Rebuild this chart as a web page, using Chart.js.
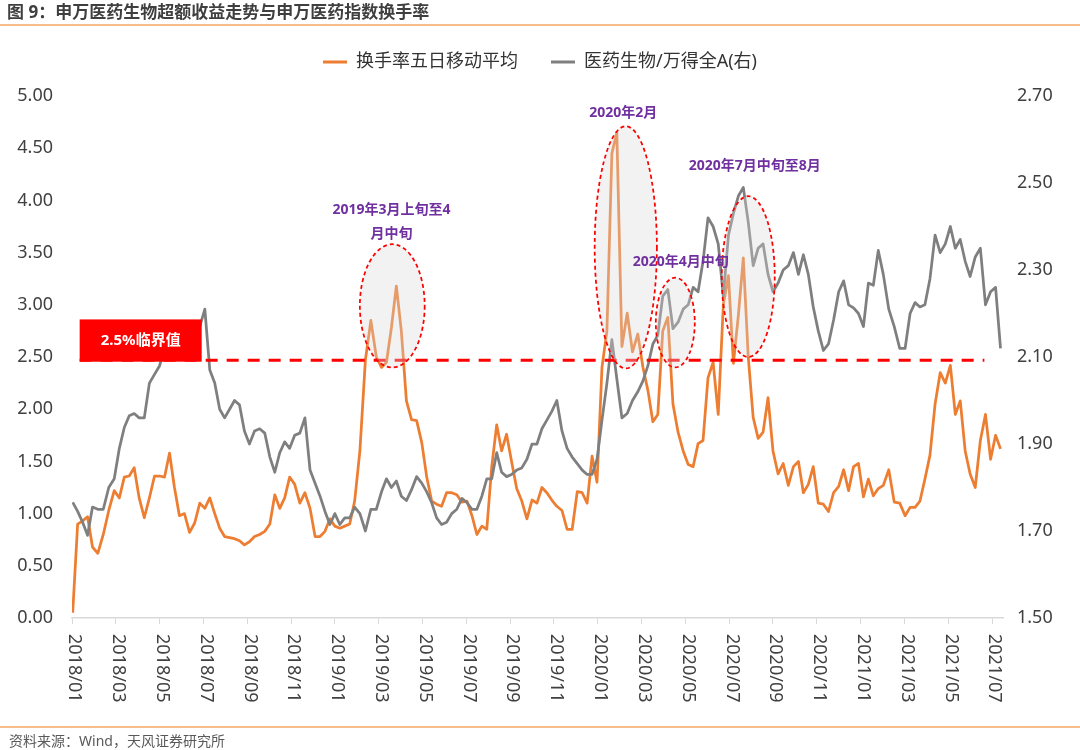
<!DOCTYPE html>
<html><head><meta charset="utf-8">
<script src="https://cdn.jsdelivr.net/npm/chart.js@4.4.1/dist/chart.umd.min.js"></script>
<style>
html,body{margin:0;padding:0;background:#fff;}
#wrap{position:relative;width:1080px;height:750px;overflow:hidden;font-family:"Noto Sans","Noto Sans CJK SC",sans-serif;}
#title{position:absolute;left:7px;top:1px;font-size:17px;font-weight:bold;color:#3f3f3f;white-space:nowrap;line-height:22px;}
.rule{position:absolute;left:0;width:1080px;height:2px;background:#F6BC8C;}
#foot{position:absolute;left:9px;top:731px;font-size:14px;color:#595959;line-height:20px;white-space:nowrap;}
#c{position:absolute;left:0;top:0;}
</style></head><body>
<div id="wrap">
<canvas id="c" width="1080" height="750"></canvas>
<div id="title">图 9：申万医药生物超额收益走势与申万医药指数换手率</div>
<div class="rule" style="top:24px"></div>
<div class="rule" style="top:726px"></div>
<div id="foot">资料来源：Wind，天风证券研究所</div>
</div>
<script>
// ---- data (weekly samples starting 2018-01-02) ----
const firstDate = '2018-01-02';
const turnover5d = [
0.05,0.90,0.93,0.97,0.68,0.62,0.80,1.03,1.22,1.15,
1.35,1.36,1.44,1.15,0.96,1.15,1.36,1.36,1.35,1.58,
1.25,0.98,1.00,0.82,0.91,1.10,1.05,1.15,1.00,0.86,
0.78,0.77,0.76,0.74,0.70,0.73,0.78,0.80,0.83,0.90,
1.18,1.05,1.15,1.35,1.28,1.10,1.20,1.05,0.78,0.78,
0.83,0.95,0.88,0.86,0.88,0.90,1.12,1.60,2.47,2.85,
2.50,2.40,2.45,2.78,3.18,2.75,2.08,1.90,1.89,1.68,
1.35,1.12,1.09,1.07,1.20,1.20,1.18,1.11,1.12,0.98,
0.80,0.88,0.85,1.45,1.85,1.60,1.76,1.50,1.24,1.12,
0.95,1.13,1.10,1.25,1.20,1.13,1.07,1.03,0.85,0.85,
1.21,1.20,1.10,1.55,1.30,2.40,2.75,4.45,4.65,2.60,
2.92,2.55,2.72,2.40,2.18,1.88,1.95,2.75,2.88,2.05,
1.78,1.60,1.47,1.45,1.67,1.70,2.30,2.45,1.95,3.00,
3.28,2.44,2.90,3.45,2.50,1.92,1.72,1.78,2.11,1.60,
1.38,1.48,1.27,1.45,1.50,1.20,1.28,1.45,1.10,1.09,
1.02,1.20,1.26,1.42,1.22,1.45,1.48,1.16,1.33,1.17,
1.24,1.27,1.42,1.11,1.10,0.98,1.06,1.06,1.12,1.33,
1.56,2.05,2.35,2.25,2.42,1.95,2.08,1.60,1.38,1.25,
1.70,1.95,1.52,1.75,1.62
];
const pharmaVsWindA = [
1.766,1.745,1.72,1.69,1.755,1.75,1.75,1.80,1.82,1.89,
1.938,1.965,1.97,1.96,1.96,2.04,2.06,2.08,2.12,2.16,
2.13,2.10,2.12,2.18,2.14,2.17,2.21,2.07,2.04,1.98,
1.96,1.98,2.00,1.99,1.93,1.90,1.93,1.935,1.925,1.87,
1.835,1.88,1.905,1.89,1.92,1.925,1.96,1.84,1.81,1.78,
1.745,1.715,1.74,1.715,1.73,1.73,1.755,1.74,1.70,1.75,
1.75,1.79,1.82,1.80,1.815,1.78,1.77,1.795,1.825,1.81,
1.79,1.765,1.73,1.715,1.72,1.74,1.75,1.775,1.765,1.75,
1.75,1.78,1.82,1.82,1.88,1.835,1.825,1.83,1.84,1.845,
1.865,1.90,1.90,1.935,1.955,1.975,2.00,1.93,1.89,1.87,
1.855,1.84,1.83,1.83,1.865,1.955,2.04,2.14,2.05,1.96,
1.97,2.00,2.02,2.045,2.08,2.13,2.15,2.24,2.255,2.165,
2.18,2.21,2.22,2.26,2.25,2.32,2.42,2.40,2.36,2.24,
2.38,2.43,2.47,2.49,2.41,2.31,2.35,2.36,2.29,2.25,
2.27,2.30,2.31,2.34,2.29,2.335,2.29,2.215,2.16,2.115,
2.13,2.185,2.25,2.275,2.22,2.213,2.20,2.17,2.27,2.265,
2.345,2.29,2.21,2.17,2.12,2.12,2.20,2.225,2.215,2.22,
2.28,2.38,2.34,2.36,2.40,2.35,2.37,2.32,2.285,2.33,
2.35,2.22,2.25,2.26,2.12
];
const tickLabels = ['2018/01','2018/03','2018/05','2018/07','2018/09','2018/11',
'2019/01','2019/03','2019/05','2019/07','2019/09','2019/11',
'2020/01','2020/03','2020/05','2020/07','2020/09','2020/11',
'2021/01','2021/03','2021/05','2021/07'];
const seriesNames = ['换手率五日移动平均','医药生物/万得全A(右)'];
const thresholdValue = 2.47;
const thresholdSpan = [0.35, 41.65];           // months from 2018/01
const thresholdLabel = '2.5%临界值';
const noteTexts = ['2020年2月','2019年3月上旬至4','月中旬','2020年7月中旬至8月','2020年4月中旬'];

// ---- helpers ----
function monthOffsetOfDate(d){
  const y=d.getUTCFullYear(), m=d.getUTCMonth(), day=d.getUTCDate();
  const dim=new Date(Date.UTC(y,m+1,0)).getUTCDate();
  return (y-2018)*12+m+(day-1)/dim;
}
function labelToMonth(l){ const [y,m]=l.split('/').map(Number); return (y-2018)*12+(m-1); }
const [fy,fm,fd] = firstDate.split('-').map(Number);
const weekMonths = turnover5d.map((_,i)=>monthOffsetOfDate(new Date(Date.UTC(fy,fm-1,fd+7*i))));
const turnoverPts = turnover5d.map((v,i)=>({x:weekMonths[i],y:v}));
const ratioPts = pharmaVsWindA.map((v,i)=>({x:weekMonths[i],y:v}));

// annotation geometry in data units (month, left-axis value)
const ellipses = [
  {m:14.62, v:2.99, rm:1.48, rv:0.59},
  {m:25.28, v:3.55, rm:1.42, rv:1.16},
  {m:27.54, v:2.83, rm:0.89, rv:0.43},
  {m:30.87, v:3.27, rm:1.21, rv:0.77}
];
const notes = [
  {t:noteTexts[0], m:25.16, v:4.84},
  {t:noteTexts[1], m:14.59, v:3.91},
  {t:noteTexts[2], m:14.59, v:3.68},
  {t:noteTexts[3], m:31.17, v:4.33},
  {t:noteTexts[4], m:27.79, v:3.41}
];
const thresholdBox = {m0:0.35, m1:5.92, v0:2.455, v1:2.86};

const FONT = '"Noto Sans","Noto Sans CJK SC",sans-serif';
Chart.defaults.font.family = FONT;

const overlay = {
  id:'overlay',
  afterDatasetsDraw(chart){
    const {ctx, scales:{x, y}} = chart;
    ellipses.forEach(e=>{
      const cx=x.getPixelForValue(e.m), cy=y.getPixelForValue(e.v);
      const rx=Math.abs(x.getPixelForValue(e.m+e.rm)-cx), ry=Math.abs(y.getPixelForValue(e.v+e.rv)-cy);
      ctx.save();
      ctx.beginPath(); ctx.ellipse(cx,cy,rx,ry,0,0,Math.PI*2);
      ctx.fillStyle='rgba(217,217,217,0.34)'; ctx.fill();
      ctx.setLineDash([4,3]); ctx.lineWidth=1.75; ctx.strokeStyle='#FF0000'; ctx.stroke();
      ctx.restore();
    });
    // threshold label box
    const bx0=x.getPixelForValue(thresholdBox.m0), bx1=x.getPixelForValue(thresholdBox.m1);
    const by0=y.getPixelForValue(thresholdBox.v1), by1=y.getPixelForValue(thresholdBox.v0);
    ctx.save();
    ctx.fillStyle='#FF0000'; ctx.fillRect(bx0,by0,bx1-bx0,by1-by0);
    ctx.fillStyle='#FFFFFF'; ctx.font='bold 15px '+FONT; ctx.textAlign='center'; ctx.textBaseline='middle';
    ctx.fillText(thresholdLabel,(bx0+bx1)/2,(by0+by1)/2);
    ctx.restore();
    // notes
    ctx.save();
    ctx.fillStyle='#7030A0'; ctx.font='bold 14px '+FONT; ctx.textAlign='center'; ctx.textBaseline='middle';
    notes.forEach(n=>ctx.fillText(n.t, x.getPixelForValue(n.m), y.getPixelForValue(n.v)));
    ctx.restore();
  },
  afterDraw(chart){
    const {ctx, scales:{x}, chartArea} = chart;
    ctx.save();
    ctx.font='18px '+FONT; ctx.fillStyle='#404040'; ctx.textAlign='left'; ctx.textBaseline='middle';
    x.ticks.forEach((t,i)=>{
      const px=x.getPixelForValue(t.value);
      ctx.save(); ctx.translate(px+2.5, chartArea.bottom+16); ctx.rotate(Math.PI/2);
      ctx.fillText(tickLabels[i],0,0); ctx.restore();
    });
    ctx.restore();
  }
};

new Chart(document.getElementById('c'), {
  type:'line',
  data:{datasets:[
    {label:seriesNames[0], data:turnoverPts, yAxisID:'y', borderColor:'#ED7D31', backgroundColor:'#ED7D31',
     borderWidth:2.75, pointRadius:0, tension:0, borderJoinStyle:'round', order:2},
    {label:seriesNames[1], data:ratioPts, yAxisID:'y1', borderColor:'#7F7F7F', backgroundColor:'#7F7F7F',
     borderWidth:2.75, pointRadius:0, tension:0, borderJoinStyle:'round', order:1},
    {label:thresholdLabel, data:[{x:thresholdSpan[0],y:thresholdValue},{x:thresholdSpan[1],y:thresholdValue}],
     yAxisID:'y', borderColor:'#FF0000', backgroundColor:'#FF0000', borderDash:[12,9], borderWidth:3, pointRadius:0, order:0}
  ]},
  options:{
    responsive:false, animation:false, events:[],
    layout:{padding:{top:20,left:0,right:0,bottom:0}},
    plugins:{
      tooltip:{enabled:false},
      title:{display:true, text:'', weight:500, font:{size:15, lineHeight:1}, padding:0},
      legend:{position:'top', labels:{
        boxWidth:24, boxHeight:3, padding:33, color:'#333', font:{size:18},
        filter:(it)=>it.datasetIndex<2,
        sort:(a,b)=>a.datasetIndex-b.datasetIndex,
        generateLabels(chart){
          return Chart.defaults.plugins.legend.labels.generateLabels(chart)
            .map(it=>Object.assign(it,{fillStyle:it.strokeStyle, lineWidth:0, lineDash:[]}));
        }
      }}
    },
    scales:{
      x:{type:'linear', min:0, max:42.5,
        afterBuildTicks:(s)=>{ s.ticks = tickLabels.map(l=>({value:labelToMonth(l)})); },
        ticks:{display:false},
        grid:{display:true, drawOnChartArea:false, drawTicks:true, tickLength:6, color:'#d9d9d9', lineWidth:1},
        border:{display:true, color:'#d9d9d9', width:1.5},
        afterFit:(s)=>{ s.height=132; }
      },
      y:{type:'linear', position:'left', min:0, max:5,
        ticks:{stepSize:0.5, padding:19, color:'#404040', font:{size:18}, callback:(v)=>Number(v).toFixed(2)},
        grid:{display:false, drawTicks:false}, border:{display:false},
        afterFit:(s)=>{ s.width=72; }
      },
      y1:{type:'linear', position:'right', min:1.5, max:2.7,
        ticks:{stepSize:0.2, padding:14, color:'#404040', font:{size:18}, callback:(v)=>Number(v).toFixed(2)},
        grid:{display:false, drawTicks:false}, border:{display:false},
        afterFit:(s)=>{ s.width=77; }
      }
    }
  },
  plugins:[overlay]
});
</script>
</body></html>
